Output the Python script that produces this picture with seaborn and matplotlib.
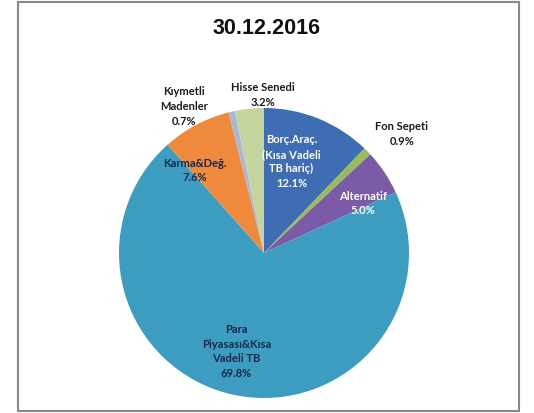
import matplotlib
matplotlib.use("Agg")
import matplotlib.pyplot as plt
import seaborn as sns
from matplotlib.patches import Rectangle

# Portfolio allocation as of 30.12.2016 (clockwise from 12 o'clock)
categories = [
    "Borç.Araç.\n(Kısa Vadeli\nTB hariç)",
    "Fon Sepeti",
    "Alternatif",
    "Para\nPiyasası&Kısa\nVadeli TB",
    "Karma&Değ.",
    "Kıymetli\nMadenler",
    "Hisse Senedi",
]
shares = [12.1, 0.9, 5.0, 69.8, 7.6, 0.7, 3.2]
title = "30.12.2016"

slice_colors = ["#3f6db3", "#9bbb59", "#7b5ba6", "#3d9dc1",
                "#ef8a3c", "#a9b7d6", "#c4d69e"]
label_colors = ["white", "#1a1a1a", "white", "#14284b",
                "#14284b", "#1a1a1a", "#1a1a1a"]
# label anchor points in pie-radius units
label_x = [0.19, 0.95, 0.68, -0.19, -0.48, -0.55, -0.01]
label_y = [0.63, 0.82, 0.34, -0.68, 0.57, 1.01, 1.09]

sns.set_theme(style="white")
plt.rcParams["font.family"] = ["Lato", "DejaVu Sans"]

W, H = 534, 413
fig = plt.figure(figsize=(W / 100, H / 100), dpi=100)
fig.patch.set_facecolor("white")

cx, cy, r = 264, 253, 145
ax = fig.add_axes([(cx - r) / W, (H - cy - r) / H, 2 * r / W, 2 * r / H])
ax.pie(shares, colors=sns.color_palette(slice_colors), startangle=90,
       counterclock=False, radius=1.0,
       wedgeprops=dict(linewidth=0, antialiased=True))
ax.set_xlim(-1, 1)
ax.set_ylim(-1, 1)
ax.set_aspect("equal")
ax.axis("off")

for name, val, x, y, c in zip(categories, shares, label_x, label_y, label_colors):
    ax.text(x, y, f"{name}\n{val:.1f}%", ha="center", va="center",
            fontsize=8, fontweight="bold", color=c, linespacing=1.4,
            clip_on=False)

fig.text(267 / W, 1 - 28 / H, title, ha="center", va="center",
         fontsize=15.5, fontweight="bold", color="#111111",
         family="Liberation Sans")

fig.add_artist(Rectangle((18 / W, 2 / H), (519 - 18) / W, (411 - 2) / H,
                         transform=fig.transFigure, fill=False,
                         edgecolor="#8a8a8a", linewidth=1.5))

fig.savefig("out.png", dpi=100, facecolor="white")
